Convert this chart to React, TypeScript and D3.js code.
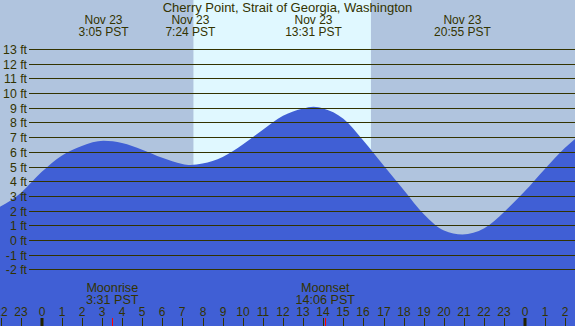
import * as d3 from 'd3'

const W = 575
const H = 326

const title = 'Cherry Point, Strait of Georgia, Washington'

// tide curve: hours after midnight Nov 23, height in ft
const hours = [-2.07, -1, 0, 1, 2, 3.08, 4, 5, 6, 7, 7.4, 8, 9, 10, 11, 12, 13, 13.52, 14, 15, 16, 17, 18, 19, 20, 20.92, 22, 23, 24, 25, 26, 26.53]
const heights = [2.25, 3.24, 4.62, 5.74, 6.4, 6.75, 6.6, 6.15, 5.6, 5.18, 5.1, 5.2, 5.65, 6.5, 7.5, 8.45, 8.95, 9.07, 8.95, 8.25, 6.75, 5.07, 3.41, 1.76, 0.65, 0.38, 0.8, 1.93, 3.3, 4.82, 6.26, 6.9]

// high / low tides
const tideHours = [3.083, 7.4, 13.517, 20.917]
const tideTimes = ['3:05', '7:24', '13:31', '20:55']

// moon
const moonNames = ['Moonrise', 'Moonset']
const moonHours = [3.517, 14.1]
const moonTimes = ['3:31', '14:06']

// daylight
const sunrise = 7.55
const sunset = 16.37

const ftTicks = d3.range(-2, 14)
const hourTicks = d3.range(-2, 27)

const ink = '#333300'
const font = '"Liberation Sans", Arial, sans-serif'

export default function App() {
  const x = d3.scaleLinear().domain([0, 24]).range([41.5, 41.5 + 20.125 * 24])
  const y = d3.scaleLinear().domain([0, 13]).range([240, 49])

  const pts = hours.map((h, i) => [h, heights[i]] as [number, number])
  const area = d3
    .area<[number, number]>()
    .x((d) => x(d[0]))
    .y0(H)
    .y1((d) => y(d[1]))
    .curve(d3.curveMonotoneX)

  return (
    <>
      <style>{`body{margin:0}`}</style>
      <svg width={W} height={H} style={{ display: 'block' }} fontFamily={font} fontSize={12}>
        <rect width={W} height={H} fill="#b0c4de" />
        <rect x={x(sunrise)} width={x(sunset) - x(sunrise)} height={H} fill="#e0f8ff" />
        <path d={area(pts) ?? ''} fill="#405fd5" />

        {ftTicks.map((f) => (
          <g key={f}>
            <line x1={29} x2={W} y1={Math.round(y(f)) + 0.5} y2={Math.round(y(f)) + 0.5} stroke={ink} />
            <text x={27} y={Math.round(y(f)) + 4.5} textAnchor="end" fill={ink} fontSize={12.3}>
              {f} ft
            </text>
          </g>
        ))}

        <text x={W / 2} y={12} textAnchor="middle" fill={ink} fontSize={13}>
          {title}
        </text>
        {tideHours.map((h, i) => (
          <g key={i} fill={ink} textAnchor="middle">
            <text x={x(h)} y={24}>Nov 23</text>
            <text x={x(h)} y={36}>{tideTimes[i]} PST</text>
          </g>
        ))}

        {moonHours.map((h, i) => (
          <g key={i} fill={ink} textAnchor="middle" fontSize={12.6}>
            <text x={x(h)} y={292}>{moonNames[i]}</text>
            <text x={x(h)} y={304}>{moonTimes[i]} PST</text>
            <line x1={Math.round(x(h)) + 0.5} x2={Math.round(x(h)) + 0.5} y1={318} y2={H} stroke="red" />
          </g>
        ))}

        {hourTicks.map((h) => {
          const px = Math.round(x(h))
          const midnight = h % 24 === 0
          return (
            <g key={h}>
              <text x={px} y={316} textAnchor="middle" fill={ink}>
                {((h % 24) + 24) % 24}
              </text>
              <line
                x1={midnight ? px : px + 0.5}
                x2={midnight ? px : px + 0.5}
                y1={318}
                y2={H}
                stroke={midnight ? '#222200' : ink}
                strokeWidth={midnight ? 3 : 1}
              />
            </g>
          )
        })}
      </svg>
    </>
  )
}
